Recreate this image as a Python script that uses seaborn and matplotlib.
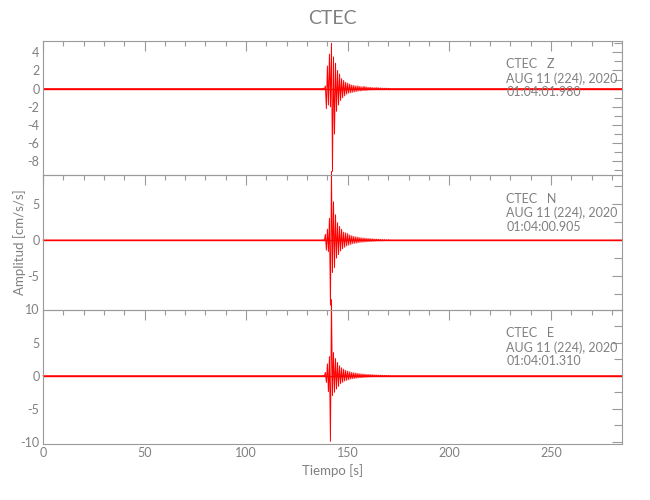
import numpy as np
import matplotlib
matplotlib.use("Agg")
import matplotlib.pyplot as plt
from matplotlib import font_manager
from matplotlib.ticker import MultipleLocator
import seaborn as sns

sns.set_style("white")
nombres = {f.name for f in font_manager.fontManager.ttflist}
fuente = "Liberation Sans Narrow" if "Liberation Sans Narrow" in nombres else "Lato"
plt.rcParams["font.family"] = [fuente, "DejaVu Sans"]
plt.rcParams["axes.unicode_minus"] = False

# datos
estacion = "CTEC"
componentes = ["Z", "N", "E"]
fecha = "AUG 11 (224), 2020"
horas = ["01:04:01.980", "01:04:00.905", "01:04:01.310"]

# tiempo de las muestras del evento (s), cada 0.5 s entre 138 y 170
t_evento = np.arange(138.0, 170.01, 0.5)
t_antes = [0.0, 137.5]
t_despues = [170.5, 285.0]

amp_z = [0.05, -0.1, 0.3, -2.2, 2.5, -1.8, 3.8, -2.0, 5.0, -9.1, 3.5, -5.0, 2.8, -2.5,
         2.0, -1.8, 1.6, -1.3, 1.1, -1.0, 0.9, -0.8, 0.7, -0.6, 0.6, -0.5, 0.5, -0.45,
         0.4, -0.4, 0.35, -0.35, 0.3, -0.3, 0.3, -0.25, 0.25, -0.25, 0.2, -0.2, 0.25,
         -0.2, 0.2, -0.18, 0.15, -0.15, 0.15, -0.12, 0.12, -0.12, 0.1, -0.1, 0.12, -0.1,
         0.1, -0.08, 0.08, -0.08, 0.06, -0.06, 0.05, -0.05, 0.05, -0.04, 0.03]
amp_n = [0.05, -0.1, 0.8, -1.4, 1.5, -1.6, 3.0, -9.0, 9.5, -4.5, 5.3, -3.8, 3.5, -2.5,
         2.4, -2.0, 1.9, -1.5, 1.5, -1.2, 1.1, -1.0, 1.0, -0.8, 0.9, -0.7, 0.7, -0.6,
         0.6, -0.5, 0.5, -0.45, 0.45, -0.4, 0.4, -0.35, 0.35, -0.3, 0.3, -0.28, 0.28,
         -0.25, 0.25, -0.22, 0.22, -0.2, 0.2, -0.18, 0.18, -0.16, 0.15, -0.14, 0.14, -0.12,
         0.12, -0.1, 0.1, -0.1, 0.08, -0.08, 0.07, -0.06, 0.05, -0.05, 0.04]
amp_e = [0.05, -0.1, 0.5, -1.0, 1.8, -2.4, 2.9, -9.9, 11.5, -3.0, 3.5, -2.5, 2.6, -2.0,
         2.0, -1.6, 1.5, -1.2, 1.2, -1.0, 1.0, -0.8, 0.8, -0.7, 0.7, -0.6, 0.6, -0.5,
         0.5, -0.45, 0.45, -0.4, 0.4, -0.35, 0.35, -0.3, 0.3, -0.28, 0.28, -0.25, 0.25,
         -0.22, 0.22, -0.2, 0.2, -0.18, 0.18, -0.16, 0.16, -0.14, 0.14, -0.12, 0.12, -0.1,
         0.1, -0.1, 0.09, -0.08, 0.08, -0.07, 0.06, -0.05, 0.05, -0.04, 0.03]
amplitudes = [amp_z, amp_n, amp_e]

limites_y = [(-9.5, 5.3), (-9.6, 9.0), (-10.3, 10.0)]
paso_mayor = [2, 5, 5]
paso_menor = [1, 2.5, 2.5]

gris = "#9a9a9a"
gris_texto = "#808080"

fig = plt.figure(figsize=(6.5, 5), dpi=100)
izq, ancho = 0.066, 0.891
abajos = [0.650, 0.381, 0.112]
alto = 0.269

for i, comp in enumerate(componentes):
    ax = fig.add_axes([izq, abajos[i], ancho, alto])
    t = np.concatenate([t_antes, t_evento, t_despues])
    y = np.concatenate([[0.0, 0.0], amplitudes[i], [0.0, 0.0]])
    sns.lineplot(x=t, y=y, ax=ax, color="red", lw=0.7, estimator=None, sort=False)
    for l in ax.lines:
        l.set_clip_on(i == 0)
    # linea base algo mas gruesa, como en el original
    ax.axhline(0, color="red", lw=1.0, zorder=1)
    ax.set_xlim(0, 285)
    ax.set_ylim(*limites_y[i])
    ax.xaxis.set_major_locator(MultipleLocator(50))
    ax.xaxis.set_minor_locator(MultipleLocator(10))
    ax.yaxis.set_major_locator(MultipleLocator(paso_mayor[i]))
    ax.yaxis.set_minor_locator(MultipleLocator(paso_menor[i]))
    ax.tick_params(which="both", direction="in", top=True, right=True, colors=gris,
                   labelcolor=gris_texto, labelsize=9, width=0.8, pad=2.5)
    ax.tick_params(which="major", length=7)
    ax.tick_params(which="minor", length=3.5)
    ax.tick_params(axis="y", which="minor", length=6)
    for s in ax.spines.values():
        s.set_color(gris)
        s.set_linewidth(0.8)
    if i < 2:
        ax.set_xticklabels([])
    ax.set_xlabel("")
    ax.set_ylabel("")
    ax.text(0.80, 0.867, f"{estacion}   {comp}\n{fecha}\n{horas[i]}", transform=ax.transAxes,
            ha="left", va="top", fontsize=9, color=gris_texto, linespacing=1.15)
    ax.patch.set_alpha(0)

fig.text(0.511, 0.964, estacion, ha="center", va="center", fontsize=14, color=gris_texto)
fig.text(0.511, 0.058, "Tiempo [s]", ha="center", va="center", fontsize=9.5, color=gris_texto)
fig.text(0.030, 0.516, "Amplitud [cm/s/s]", ha="center", va="center", rotation=90,
         fontsize=9.5, color=gris_texto)

fig.savefig("out.png", dpi=100)
